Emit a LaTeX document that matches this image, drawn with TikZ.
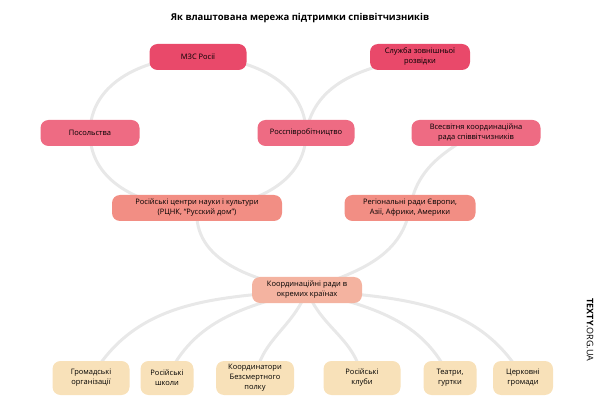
\documentclass[tikz,border=0pt]{standalone}
\usepackage{fontspec}
\setmainfont{Open Sans}
\usetikzlibrary{backgrounds}
\definecolor{topred}{HTML}{E9496A}
\definecolor{midpink}{HTML}{EE6B83}
\definecolor{salmon}{HTML}{F28E84}
\definecolor{peach}{HTML}{F4B3A0}
\definecolor{sand}{HTML}{F8E1B9}
\definecolor{ringgray}{HTML}{E8E8E8}
\begin{document}
\begin{tikzpicture}[x=1pt, y=-1pt,
		box_style/.style={rounded corners=8pt,align=center,inner sep=2pt,
			minimum height=26pt,font=\fontsize{7.5}{10}\selectfont},
		edge_style/.style={draw=ringgray,line width=3pt}]
		\useasboundingbox (0,0) rectangle (600,414);
		
		\node[font=\bfseries\fontsize{9.5}{11}\selectfont] (title) at (300,18) {Як влаштована мережа підтримки співвітчизників};
		
		\node[box_style,fill=topred,minimum width=97pt] (mzs) at (198,57) {МЗС Росії};
		\node[box_style,fill=topred,minimum width=100pt] (szr) at (420,57) {Служба зовнішньої\\розвідки};
		\node[box_style,fill=midpink,minimum width=99pt] (posol) at (90,133) {Посольства};
		\node[box_style,fill=midpink,minimum width=97pt] (rsp) at (306,133) {Росспівробітництво};
		\node[box_style,fill=midpink,minimum width=129pt] (vkr) at (476,133) {Всесвітня координаційна\\рада співвітчизників};
		\node[box_style,fill=salmon,minimum width=170pt] (rcnk) at (197,208) {Російські центри науки і культури\\(РЦНК, “Русский дом”)};
		\node[box_style,fill=salmon,minimum width=131pt] (regr) at (410,208) {Регіональні ради Європи,\\Азії, Африки, Америки};
		\node[box_style,fill=peach,minimum width=110pt] (kr) at (307,290) {Координаційні ради в\\окремих країнах};
		
		\node[box_style,fill=sand,minimum width=77pt,minimum height=34pt] (gro) at (91,378) {Громадські\\організації};
		\node[box_style,fill=sand,minimum width=53pt,minimum height=34pt] (shk) at (167,378) {Російські\\школи};
		\node[box_style,fill=sand,minimum width=78pt,minimum height=34pt] (bp) at (255,378) {Координатори\\Безсмертного\\полку};
		\node[box_style,fill=sand,minimum width=77pt,minimum height=34pt] (klub) at (362,378) {Російські\\клуби};
		\node[box_style,fill=sand,minimum width=53pt,minimum height=34pt] (teat) at (450,378) {Театри,\\гуртки};
		\node[box_style,fill=sand,minimum width=60pt,minimum height=34pt] (cerk) at (523,378) {Церковні\\громади};
		
		\node[rotate=-90,font=\fontsize{9}{10}\selectfont] (logo) at (590,330) {\textbf{TEXTY}.ORG.UA};
		
		\begin{pgfonlayer}{background}
		\draw[edge_style] (mzs.center) to[out=180,in=90] (posol.center);
		\draw[edge_style] (posol.center) to[out=-90,in=180] (rcnk.center);
		\draw[edge_style] (rcnk.center) to[out=0,in=-90] (rsp.center);
		\draw[edge_style] (rsp.center) to[out=90,in=0] (mzs.center);
		\draw[edge_style] (szr.center) to[out=190,in=80] (rsp.center);
		\draw[edge_style] (vkr.center) to[out=-150,in=80] (regr.center);
		\draw[edge_style] (rcnk.center) to[out=-95,in=170] (kr.center);
		\draw[edge_style] (regr.center) to[out=-100,in=20] (kr.center);
		\draw[edge_style] (kr.center) to[out=185,in=60] (gro.center);
		\draw[edge_style] (kr.center) to[out=195,in=65] (shk.center);
		\draw[edge_style] (kr.center) to[out=-110,in=80] (bp.center);
		\draw[edge_style] (kr.center) to[out=-70,in=100] (klub.center);
		\draw[edge_style] (kr.center) to[out=-15,in=115] (teat.center);
		\draw[edge_style] (kr.center) to[out=-5,in=120] (cerk.center);
		\end{pgfonlayer}
		
		\end{tikzpicture}
\end{document}
